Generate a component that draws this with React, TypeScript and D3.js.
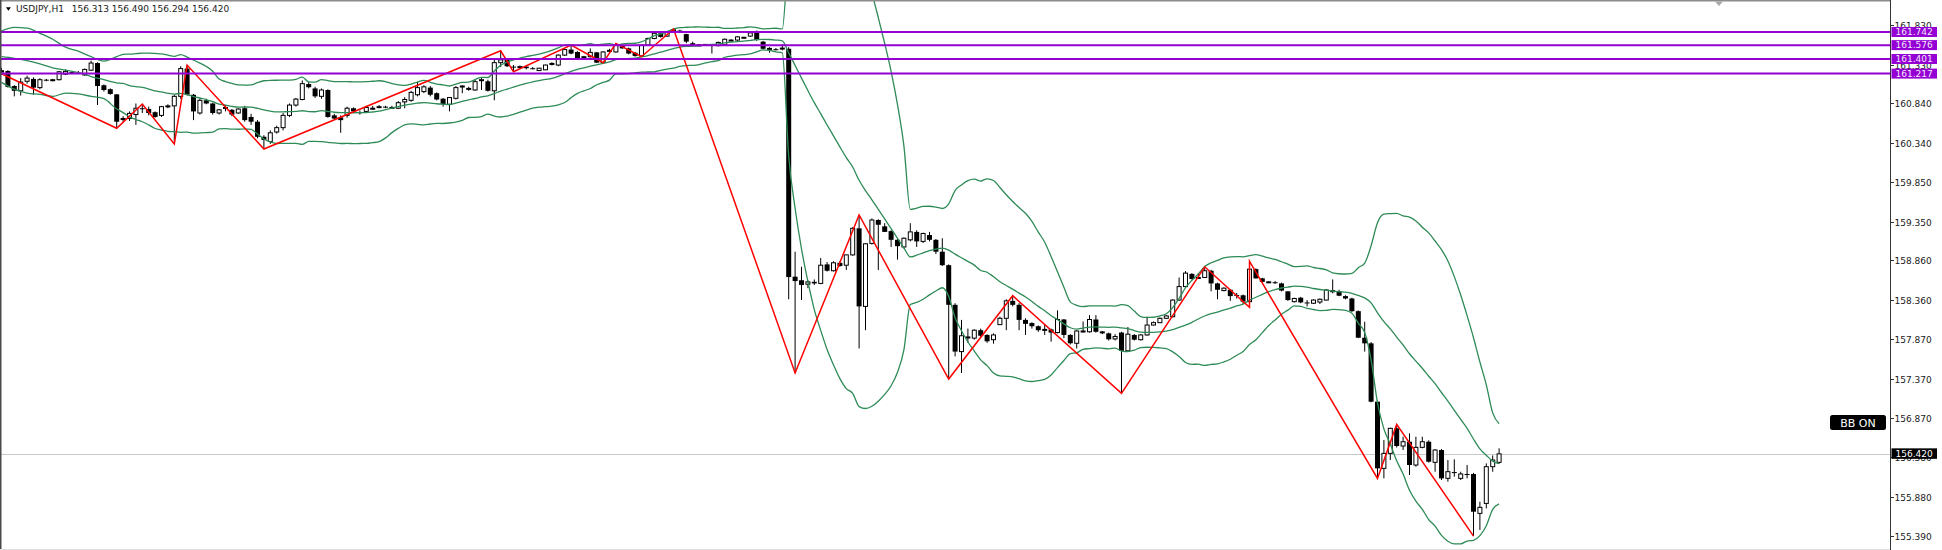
import React from 'react';
import * as d3 from 'd3';

// ---- data ----
const opens = [
  161.26, 161.25, 161.06, 161.00, 161.12, 161.15, 161.04, 161.14, 161.13, 161.14,
  161.21, 161.23, 161.23, 161.20, 161.26, 161.35, 161.07, 161.02, 160.955, 160.64,
  160.65, 160.70, 160.78, 160.77, 160.73, 160.69, 160.80, 160.81, 160.93, 161.28,
  160.95, 160.72, 160.88, 160.84, 160.72, 160.785, 160.76, 160.72, 160.78, 160.67,
  160.61, 160.42, 160.36, 160.48, 160.535, 160.69, 160.82, 160.89, 161.085, 161.03,
  160.93, 161.01, 160.69, 160.665, 160.69, 160.78, 160.73, 160.74, 160.78, 160.80,
  160.80, 160.79, 160.78, 160.86, 160.88, 160.95, 160.99, 161.04, 160.97, 160.90,
  160.83, 160.905, 161.05, 161.03, 161.01, 161.13, 161.12, 161.00, 161.355, 161.39,
  161.305, 161.30, 161.305, 161.285, 161.255, 161.265, 161.34, 161.325, 161.45, 161.52,
  161.49, 161.425, 161.43, 161.485, 161.355, 161.50, 161.49, 161.57, 161.535, 161.48,
  161.44, 161.577, 161.66, 161.725, 161.69, 161.765, 161.76, 161.715, 161.60, 161.575,
  161.58, 161.58, 161.57, 161.58, 161.64, 161.64, 161.675, 161.69, 161.73, 161.62,
  161.53, 161.525, 161.545, 161.53, 158.655, 158.61, 158.56, 158.59, 158.57, 158.81,
  158.73, 158.83, 158.80, 158.93, 159.265, 158.28, 159.075, 159.37, 159.29, 159.23,
  159.12, 159.03, 159.12, 159.22, 159.10, 159.18, 159.12, 158.97, 158.80, 158.30,
  157.71, 157.89, 157.88, 157.98, 157.92, 157.86, 158.05, 158.13, 158.35, 158.30,
  158.11, 158.07, 158.03, 157.985, 157.99, 157.95, 158.115, 157.92, 157.815, 157.965,
  157.96, 158.115, 157.965, 157.94, 157.87, 157.95, 157.72, 157.92, 157.86, 157.92,
  158.045, 158.075, 158.13, 158.15, 158.36, 158.53, 158.69, 158.64, 158.645, 158.73,
  158.57, 158.48, 158.49, 158.425, 158.42, 158.34, 158.75, 158.634, 158.59, 158.585,
  158.57, 158.47, 158.34, 158.39, 158.33, 158.32, 158.335, 158.36, 158.47, 158.474,
  158.41, 158.38, 158.22, 157.885, 157.814, 157.078, 156.237, 156.426, 156.742, 156.519,
  156.573, 156.279, 156.502, 156.573, 156.313, 156.468, 156.111, 156.19, 156.111, 156.166,
  156.166, 155.669, 155.795, 156.258, 156.313,
];
const highs = [
  161.29, 161.26, 161.07, 161.16, 161.19, 161.17, 161.16, 161.15, 161.15, 161.25,
  161.27, 161.24, 161.25, 161.28, 161.38, 161.36, 161.08, 161.03, 160.96, 160.68,
  160.74, 160.84, 160.833, 160.80, 160.74, 160.81, 160.83, 160.95, 161.31, 161.325,
  160.96, 160.90, 160.90, 160.85, 160.77, 160.82, 160.77, 160.78, 160.81, 160.71,
  160.63, 160.44, 160.50, 160.56, 160.72, 160.84, 160.91, 161.13, 161.11, 161.05,
  161.03, 161.02, 160.71, 160.69, 160.80, 160.79, 160.75, 160.81, 160.81, 160.82,
  160.81, 160.81, 160.87, 160.92, 161.00, 161.115, 161.07, 161.06, 160.98, 160.91,
  160.92, 161.06, 161.07, 161.05, 161.14, 161.16, 161.14, 161.39, 161.505, 161.40,
  161.325, 161.32, 161.31, 161.30, 161.29, 161.33, 161.36, 161.46, 161.53, 161.577,
  161.50, 161.44, 161.535, 161.49, 161.50, 161.53, 161.598, 161.58, 161.545, 161.49,
  161.58, 161.67, 161.73, 161.74, 161.75, 161.78, 161.77, 161.72, 161.62, 161.59,
  161.59, 161.59, 161.62, 161.66, 161.65, 161.69, 161.68, 161.74, 161.76, 161.63,
  161.55, 161.54, 161.59, 161.55, 158.97, 158.78, 158.61, 158.62, 158.89, 158.84,
  158.85, 158.85, 158.93, 159.28, 159.433, 159.08, 159.39, 159.38, 159.33, 159.24,
  159.13, 159.15, 159.33, 159.24, 159.21, 159.22, 159.13, 159.14, 158.81, 158.32,
  158.11, 158.00, 157.99, 158.00, 157.93, 157.94, 158.15, 158.37, 158.415, 158.32,
  158.13, 158.08, 158.04, 158.045, 158.00, 158.23, 158.12, 157.93, 157.98, 158.09,
  158.17, 158.17, 157.97, 157.95, 157.93, 157.96, 158.02, 157.93, 157.93, 158.15,
  158.09, 158.14, 158.17, 158.37, 158.645, 158.725, 158.70, 158.70, 158.78, 158.74,
  158.58, 158.52, 158.50, 158.45, 158.43, 158.85, 158.76, 158.64, 158.60, 158.60,
  158.58, 158.47, 158.39, 158.40, 158.36, 158.37, 158.38, 158.50, 158.62, 158.49,
  158.42, 158.39, 158.23, 158.087, 157.83, 157.09, 156.594, 156.75, 156.792, 156.636,
  156.679, 156.636, 156.636, 156.59, 156.48, 156.48, 156.342, 156.351, 156.195, 156.279,
  156.18, 155.816, 156.30, 156.40, 156.49,
];
const lows = [
  161.20, 161.04, 160.93, 160.94, 161.09, 160.95, 161.02, 161.12, 161.12, 161.13,
  161.20, 161.21, 161.21, 161.19, 161.25, 160.82, 160.99, 160.95, 160.527, 160.60,
  160.62, 160.57, 160.72, 160.69, 160.66, 160.67, 160.78, 160.329, 160.90, 160.94,
  160.63, 160.70, 160.83, 160.70, 160.70, 160.74, 160.68, 160.71, 160.61, 160.57,
  160.40, 160.265, 160.33, 160.46, 160.50, 160.67, 160.80, 160.88, 161.03, 160.91,
  160.90, 160.66, 160.64, 160.47, 160.66, 160.72, 160.70, 160.72, 160.76, 160.78,
  160.78, 160.77, 160.77, 160.78, 160.86, 160.93, 160.97, 160.93, 160.88, 160.80,
  160.74, 160.89, 160.97, 161.00, 161.00, 161.01, 160.99, 160.88, 161.30, 161.30,
  161.24, 161.28, 161.27, 161.27, 161.25, 161.26, 161.32, 161.31, 161.44, 161.46,
  161.40, 161.41, 161.42, 161.35, 161.35, 161.49, 161.48, 161.53, 161.46, 161.43,
  161.43, 161.57, 161.65, 161.67, 161.68, 161.75, 161.73, 161.60, 161.56, 161.56,
  161.57, 161.47, 161.56, 161.57, 161.63, 161.63, 161.67, 161.68, 161.63, 161.52,
  161.48, 161.51, 161.51, 158.37, 157.44, 158.36, 158.51, 158.55, 158.56, 158.72,
  158.72, 158.78, 158.74, 158.92, 157.75, 157.98, 159.06, 158.74, 159.22, 159.03,
  158.87, 159.01, 159.10, 159.03, 159.08, 159.10, 158.94, 158.79, 157.364, 157.65,
  157.44, 157.82, 157.86, 157.89, 157.82, 157.81, 158.05, 157.98, 158.28, 157.98,
  157.92, 158.00, 157.96, 157.92, 157.835, 157.94, 157.88, 157.80, 157.75, 157.95,
  157.95, 157.95, 157.93, 157.85, 157.85, 157.183, 157.71, 157.85, 157.85, 157.91,
  158.04, 158.07, 158.12, 158.14, 158.35, 158.52, 158.62, 158.63, 158.64, 158.47,
  158.37, 158.47, 158.35, 158.38, 158.31, 158.27, 158.63, 158.58, 158.575, 158.565,
  158.47, 158.35, 158.33, 158.32, 158.28, 158.31, 158.31, 158.355, 158.445, 158.41,
  158.37, 158.21, 157.88, 157.71, 157.07, 156.11, 156.111, 156.342, 156.50, 156.468,
  156.153, 156.258, 156.49, 156.31, 156.195, 156.09, 156.069, 156.132, 156.09, 156.111,
  155.383, 155.459, 155.732, 156.195, 156.294,
];
const closes = [
  161.23, 161.05, 161.00, 161.11, 161.16, 161.04, 161.14, 161.13, 161.14, 161.24,
  161.245, 161.23, 161.22, 161.27, 161.35, 161.06, 161.01, 160.96, 160.61, 160.65,
  160.715, 160.78, 160.775, 160.72, 160.67, 160.80, 160.81, 160.93, 161.28, 160.95,
  160.74, 160.88, 160.84, 160.72, 160.76, 160.79, 160.70, 160.77, 160.63, 160.61,
  160.42, 160.38, 160.47, 160.535, 160.69, 160.82, 160.895, 161.09, 161.045, 160.93,
  161.01, 160.67, 160.65, 160.63, 160.78, 160.74, 160.72, 160.79, 160.78, 160.80,
  160.795, 160.79, 160.85, 160.89, 160.98, 161.04, 161.05, 160.95, 160.89, 160.83,
  160.915, 161.04, 161.06, 161.03, 161.115, 161.14, 161.00, 161.355, 161.39, 161.31,
  161.30, 161.305, 161.285, 161.28, 161.285, 161.325, 161.345, 161.45, 161.52, 161.47,
  161.41, 161.43, 161.485, 161.355, 161.49, 161.51, 161.577, 161.535, 161.47, 161.44,
  161.577, 161.66, 161.725, 161.68, 161.745, 161.77, 161.735, 161.62, 161.575, 161.58,
  161.585, 161.575, 161.61, 161.65, 161.64, 161.68, 161.675, 161.73, 161.64, 161.53,
  161.535, 161.52, 161.52, 158.65, 158.60, 158.55, 158.59, 158.57, 158.80, 158.73,
  158.83, 158.79, 158.93, 159.265, 158.28, 159.07, 159.37, 159.31, 159.22, 159.12,
  159.04, 159.14, 159.22, 159.10, 159.20, 159.12, 158.97, 158.80, 158.30, 157.71,
  157.91, 157.895, 157.98, 157.91, 157.84, 157.92, 158.13, 158.35, 158.30, 158.11,
  158.06, 158.03, 157.98, 157.99, 157.95, 158.115, 157.92, 157.815, 157.97, 157.97,
  158.115, 157.96, 157.94, 157.865, 157.90, 157.72, 157.93, 157.86, 157.92, 158.045,
  158.075, 158.13, 158.16, 158.36, 158.53, 158.70, 158.625, 158.645, 158.73, 158.57,
  158.49, 158.51, 158.41, 158.42, 158.34, 158.75, 158.634, 158.59, 158.59, 158.58,
  158.48, 158.36, 158.38, 158.33, 158.325, 158.36, 158.37, 158.487, 158.478, 158.415,
  158.38, 158.22, 157.885, 157.814, 157.078, 156.237, 156.426, 156.742, 156.519, 156.573,
  156.279, 156.502, 156.573, 156.321, 156.468, 156.111, 156.195, 156.182, 156.166, 156.16,
  155.69, 155.745, 156.258, 156.342, 156.42,
];

// ZigZag pivots (bar index, price)
const zigzagBars = [0, 18, 22, 27, 29, 41, 78, 80, 89, 94, 96, 100, 105, 124, 134, 148, 158, 175, 188, 195, 195, 215, 218, 230];
const zigzagPrices = [161.215, 160.527, 160.833, 160.329, 161.325, 160.265, 161.505, 161.24, 161.577, 161.355, 161.598, 161.43, 161.78, 157.44, 159.433, 157.364, 158.415, 157.183, 158.78, 158.27, 158.85, 156.11, 156.792, 155.383];

// Bollinger bands on the first bars (window starts before the visible data)
const bandHeadBars = [0, 2, 4, 6, 8, 10, 12, 14, 16, 18];
const bandHeadUpper = [161.754, 161.80, 161.79, 161.725, 161.65, 161.55, 161.50, 161.43, 161.375, 161.43];
const bandHeadMiddle = [161.43, 161.41, 161.38, 161.34, 161.29, 161.26, 161.23, 161.18, 161.14, 161.10];
const bandHeadLower = [161.106, 161.02, 160.97, 160.955, 160.93, 160.97, 160.96, 160.93, 160.90, 160.77];
const bandPeriod = 20;
const bandDeviation = 2;

const levelPrices = [161.742, 161.576, 161.401, 161.217];
const levelLabels = ['161.742', '161.576', '161.401', '161.217'];

const tickLabels = ['161.830', '161.330', '160.840', '160.340', '159.850', '159.350', '158.860', '158.360', '157.870', '157.370', '156.870', '156.380', '155.880', '155.390'];

const lastPrice = 156.42;
const lastPriceLabel = '156.420';
const symbolTitle = 'USDJPY,H1';
const ohlcTitle = '156.313 156.490 156.294 156.420';
const buttonLabel = 'BB ON';

// ---- layout ----
const W = 1942;
const H = 550;
const PLOT_R = 1890;
const PLOT_T = 1;
const PLOT_B = 549;
const FONT = 'DejaVu Sans, Verdana, sans-serif';

export default function App() {
  const n = closes.length;
  const x = d3.scaleLinear().domain([0, n - 1]).range([1.5, 1499.1]);
  const y = d3.scaleLinear().domain([155.39, 161.83]).range([535.5, 25]);

  type BandPt = { i: number; up: number; mid: number; lo: number };
  const head: BandPt[] = bandHeadBars.map((b, k) => ({ i: b, up: bandHeadUpper[k], mid: bandHeadMiddle[k], lo: bandHeadLower[k] }));
  const computed: BandPt[] = [];
  for (let i = bandPeriod - 1; i < n; i++) {
    const win = closes.slice(i - bandPeriod + 1, i + 1);
    const m = d3.mean(win) as number;
    const sd = Math.sqrt(d3.mean(win, (v) => (v - m) * (v - m)) as number);
    computed.push({ i, up: m + bandDeviation * sd, mid: m, lo: m - bandDeviation * sd });
  }
  const bands = [...head, ...computed];

  const lineUp = d3.line<BandPt>().x((d) => x(d.i)).y((d) => y(d.up)).curve(d3.curveMonotoneX);
  const lineMid = d3.line<BandPt>().x((d) => x(d.i)).y((d) => y(d.mid)).curve(d3.curveMonotoneX);
  const lineLo = d3.line<BandPt>().x((d) => x(d.i)).y((d) => y(d.lo)).curve(d3.curveMonotoneX);

  const zz = zigzagBars.map((b, k) => [x(b), y(zigzagPrices[k])] as [number, number]);
  const zzPath = d3.line()(zz) as string;

  const bodyW = 5;

  return (
    <svg width={W} height={H} style={{ position: 'absolute', left: 0, top: 0, display: 'block', background: '#fff' }}>
      <defs>
        <clipPath id="plot">
          <rect x={0} y={PLOT_T} width={PLOT_R} height={PLOT_B - PLOT_T} />
        </clipPath>
      </defs>
      <rect x={0} y={0} width={W} height={H} fill="#ffffff" />

      <g clipPath="url(#plot)">
        {/* last price line */}
        <line x1={0} x2={PLOT_R} y1={Math.round(y(lastPrice)) + 0.5} y2={Math.round(y(lastPrice)) + 0.5} stroke="#c8c8c8" strokeWidth={1} />

        {/* candles */}
        {closes.map((c, i) => {
          const o = opens[i];
          const cx = x(i);
          const bull = c >= o;
          const top = y(Math.max(o, c));
          const bot = y(Math.min(o, c));
          const h = Math.max(1, bot - top);
          return (
            <g key={i}>
              <line x1={cx} x2={cx} y1={y(highs[i])} y2={y(lows[i])} stroke="#000" strokeWidth={1} />
              {bull ? (
                <rect x={cx - bodyW / 2 + 0.5} y={top} width={bodyW - 1} height={h} fill="#fff" stroke="#000" strokeWidth={1} />
              ) : (
                <rect x={cx - bodyW / 2} y={top} width={bodyW} height={h} fill="#000" />
              )}
            </g>
          );
        })}

        {/* Bollinger bands */}
        <path d={lineUp(bands) as string} fill="none" stroke="#2e8b57" strokeWidth={1.3} />
        <path d={lineMid(bands) as string} fill="none" stroke="#2e8b57" strokeWidth={1.3} />
        <path d={lineLo(bands) as string} fill="none" stroke="#2e8b57" strokeWidth={1.3} />

        {/* ZigZag */}
        <path d={zzPath} fill="none" stroke="#ff0000" strokeWidth={1.5} strokeLinejoin="miter" />

        {/* horizontal levels */}
        {levelPrices.map((p, k) => (
          <line key={k} x1={0} x2={PLOT_R} y1={y(p)} y2={y(p)} stroke="#9400d3" strokeWidth={2} />
        ))}
      </g>

      {/* frame */}
      <line x1={0} x2={PLOT_R} y1={0.75} y2={0.75} stroke="#8c8c8c" strokeWidth={1.5} />
      <line x1={0.75} x2={0.75} y1={0} y2={H} stroke="#4a4a4a" strokeWidth={1.5} />
      <line x1={0} x2={PLOT_R} y1={549.5} y2={549.5} stroke="#e0e0e0" strokeWidth={1} />
      <line x1={PLOT_R + 0.5} x2={PLOT_R + 0.5} y1={0} y2={H} stroke="#333" strokeWidth={1} />

      {/* chart shift marker */}
      <path d="M1715,1.5 L1723,1.5 L1719,6 Z" fill="#a8a8a8" />

      {/* axis ticks and labels */}
      {tickLabels.map((t, k) => {
        const ty = Math.round(y(+t)) + 0.5;
        return (
          <g key={k}>
            <line x1={PLOT_R} x2={PLOT_R + 4} y1={ty} y2={ty} stroke="#333" strokeWidth={1} />
            <text x={1894.5} y={ty + 3.3} fontFamily={FONT} fontSize={9} fill="#1a1a1a">{t}</text>
          </g>
        );
      })}

      {/* level labels */}
      {levelPrices.map((p, k) => (
        <g key={k}>
          <rect x={1891.5} y={y(p) - 5} width={45.5} height={10} fill="#9400d3" />
          <text x={1914.2} y={y(p) + 3.3} textAnchor="middle" fontFamily={FONT} fontSize={9} fill="#f3e6ff">{levelLabels[k]}</text>
        </g>
      ))}

      {/* last price label */}
      <rect x={1891.5} y={y(lastPrice) - 5.5} width={45.5} height={10.5} fill="#000" />
      <text x={1914.2} y={y(lastPrice) + 3.2} textAnchor="middle" fontFamily={FONT} fontSize={9} fill="#fff">{lastPriceLabel}</text>

      {/* BB ON button */}
      <rect x={1830} y={415} width={56} height={15} rx={2.5} fill="#000" />
      <text x={1858} y={426.8} textAnchor="middle" fontFamily={FONT} fontSize={11} fill="#fff">{buttonLabel}</text>

      {/* header */}
      <path d="M6,7.3 L10.8,7.3 L8.4,10.7 Z" fill="#000" />
      <text x={16} y={12.3} fontFamily={FONT} fontSize={9} fill="#1a1a1a">{symbolTitle}</text>
      <text x={71.7} y={12.3} fontFamily={FONT} fontSize={9} fill="#1a1a1a">{ohlcTitle}</text>
    </svg>
  );
}
